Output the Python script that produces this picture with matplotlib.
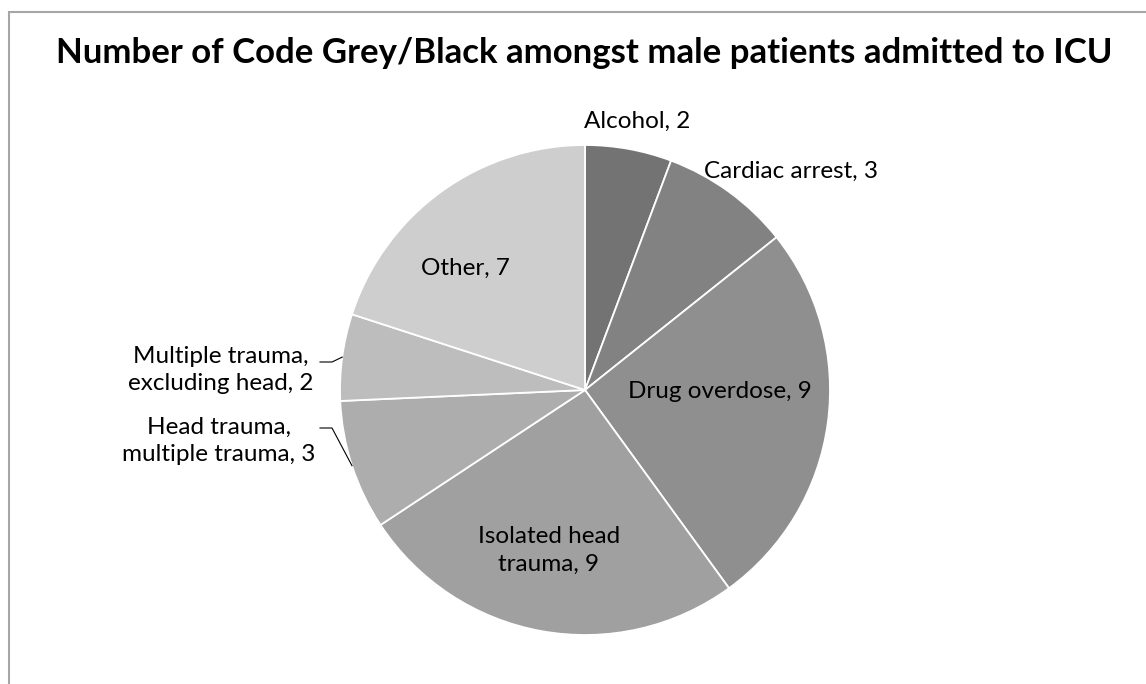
import matplotlib
matplotlib.use("Agg")
import matplotlib.pyplot as plt
import numpy as np
from matplotlib.patches import Rectangle

plt.rcParams["font.family"] = ["Lato", "DejaVu Sans"]

causes = ["Alcohol", "Cardiac arrest", "Drug overdose", "Isolated head\ntrauma",
          "Head trauma,\nmultiple trauma", "Multiple trauma,\nexcluding head", "Other"]
counts = [2, 3, 9, 9, 3, 2, 7]
greys = ["#737373", "#828282", "#8f8f8f", "#a0a0a0", "#adadad", "#bdbdbd", "#cecece"]

W, H = 1146, 684
CX, CY, R = 585, H - 390, 245

# label placement in pixels (x, y from top); leader y (from top) or None
label_pos = [(637, 121), (791, 171), (720, 392), (549, 550),
             (219, 441), (221, 370), (465, 268)]
leader_y = [None, None, None, None, 428, 362, None]

fig = plt.figure(figsize=(W / 100, H / 100), dpi=100)
ax = fig.add_axes([0, 0, 1, 1])

wedges, _ = ax.pie(counts, colors=greys, startangle=90, counterclock=False,
                   center=(CX, CY), radius=R, frame=True,
                   wedgeprops=dict(edgecolor="white", linewidth=1.3))
ax.set_xlim(0, W)
ax.set_ylim(0, H)
ax.set_aspect("equal")
ax.axis("off")

for w, name, n, (px, py), ly in zip(wedges, causes, counts, label_pos, leader_y):
    txt = f"{name}, {n}"
    ax.text(px, H - py, txt, ha="center", va="center", fontsize=17.5,
            linespacing=1.4, color="black")
    if ly is not None:
        mid = np.deg2rad((w.theta1 + w.theta2) / 2)
        ex, ey = CX + R * np.cos(mid), CY + R * np.sin(mid)
        ax.plot([320, 332, ex], [H - ly, H - ly, ey], color="black", lw=0.8)

fig.text(584 / W, 1 - 53 / H, "Number of Code Grey/Black amongst male patients admitted to ICU",
         ha="center", va="center", fontsize=25, fontweight="bold")

fig.patches.append(Rectangle((9 / W, -0.1), 1.2, 1.1 - 12 / H, transform=fig.transFigure,
                             fill=False, edgecolor="#a6a6a6", lw=1.5))

fig.savefig("out.png", dpi=100)
